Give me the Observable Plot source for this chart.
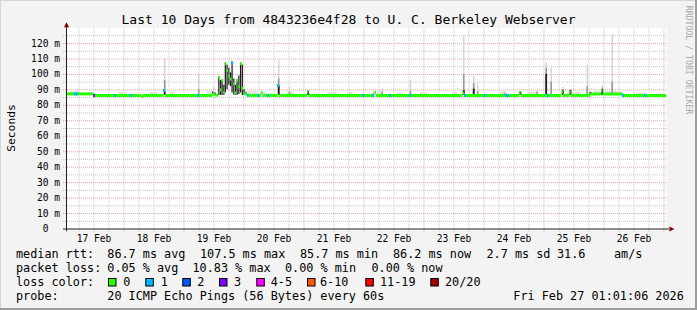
<!DOCTYPE html>
<html>
<head>
<meta charset="utf-8">
<script src="https://cdn.jsdelivr.net/npm/d3@7"></script>
<script src="https://cdn.jsdelivr.net/npm/@observablehq/plot@0.6"></script>
<style>
  html, body { margin: 0; padding: 0; background: #f3f3f3; }
  #wrap { position: relative; width: 697px; height: 310px; background: #f3f3f3; overflow: hidden; }
  #wrap svg { position: absolute; left: 0; top: 0; }
  .edge { position: absolute; }
</style>
</head>
<body>
<div id="wrap">
  <div class="edge" style="left:0;top:0;width:697px;height:1px;background:#d6d6d6"></div>
  <div class="edge" style="left:0;top:0;width:1px;height:310px;background:#d6d6d6"></div>
  <div class="edge" style="right:0;top:0;width:2px;height:310px;background:#9e9e9e"></div>
  <div class="edge" style="left:0;bottom:0;width:697px;height:2px;background:#9e9e9e"></div>
</div>
<script>
// ---------------- data (hours since 17 Feb 00:00) ----------------
const xStart = 1.0183, xEnd = 241.0183;           // 17 Feb 01:01 .. 27 Feb 01:01
const dayLabels = ["17 Feb","18 Feb","19 Feb","20 Feb","21 Feb","22 Feb","23 Feb","24 Feb","25 Feb","26 Feb"];
const dayLabelHours = [12, 36, 60, 84, 108, 132, 156, 180, 204, 228];
const midnightHours = [24, 48, 72, 96, 120, 144, 168, 192, 216, 240];
const sixHourHours = [6,12,18,30,36,42,54,60,66,78,84,90,102,108,114,126,132,138,150,156,162,174,180,186,198,204,210,222,228,234];
const yTickVals = [0,10,20,30,40,50,60,70,80,90,100,110,120];
const yTickLabels = ["0  ","10 m","20 m","30 m","40 m","50 m","60 m","70 m","80 m","90 m","100 m","110 m","120 m"];
const yMajor = [10,20,30,40,50,60,70,80,90,100,110,120];
const yMinor = [5,15,25,35,45,55,65,75,85,95,105,115,125];

// median rtt (ms), step series: value holds from medianT[i] to medianT[i+1]
const medianT = [1.02,12.0,12.6,31.2,31.8,40.0,40.6,59.4,60.4,61.4,61.9,62.6,63.2,63.9,64.5,65.2,65.9,66.6,67.2,67.9,68.6,69.2,69.9,70.6,71.3,72.0,72.8,73.5,79.0,79.6,85.6,86.2,97.4,98.0,124.4,125.0,159.6,160.2,182.3,182.9,199.2,199.8,202.3,202.9,210.6,215.0,215.6,223.6,241.02];
const medianV = [87.4,86.3,86.4,85.7,86.4,89.6,86.4,87.2,86.7,86.4,98.0,90.0,96.0,88.5,107.0,102.5,99.0,97.0,107.5,94.0,88.0,96.0,92.0,107.0,91.0,87.5,87.2,86.4,88.3,86.4,92.8,86.4,88.8,86.4,88.3,86.4,88.0,86.4,88.2,86.4,88.8,86.4,88.5,86.4,87.3,89.3,87.3,86.4,86.2];

// dense smoke during the 19 Feb disturbance (ms)
const wildT  = [59.4,60.4,61.9,62.6,63.2,63.9,64.5,65.2,65.9,66.6,67.2,67.9,68.6,69.2,69.9,70.6,71.3,72.0,72.8];
const wildLo = [86.4,86.4,86.4,86.4,86.4,86.4,88.0,90.0,93.0,92.0,88.0,86.5,86.4,86.4,87.0,88.0,86.4,86.4,86.4];
const wildHi = [88.6,88.0,98.2,96.0,96.2,93.0,107.3,106.0,104.0,101.0,108.0,97.0,93.0,96.5,99.0,107.5,106.0,90.0,88.5];

// isolated smoke spikes (ms)
const spikeBase = 86.4;
const spikeT    = [40.3,53.9,59.8,85.9,90.2,97.7,123.8,127.3,138.6,159.9,163.9,165.5,176.2,182.6,189.3,192.9,194.9,199.5,202.6,209.3,210.6,215.3,219.3];
const spikeTop  = [110,100,91.5,109,91.5,89.5,88.5,90.5,96,125,98.5,94,89,88.5,90.5,107.5,104,91.5,90,106,88.5,92.5,125.5];
const spikeMid  = [96,90,88,97,88.5,89,87.5,88.5,89,100,94,89,87.5,88.5,88.5,104,95,90,89.5,92,88.5,91,95];
const spikeDark = [88.5,0,0,92.5,0,89,0,0,0,89.5,90.5,0,0,88.5,0,100,0,89.5,89.5,0,88.3,90,0];

// faint smoke just above the median line
const fuzzT0  = [2.6,21.8,34.6,42.6,57.4,73.8,78.6,89.4,105.4,113.4,125.4,133.4,142.6,155.4,174.6,185.4,201.4,211.8,227.8];
const fuzzT1  = [6.6,25.4,37.4,44.6,59.4,77.4,81.4,91.8,109.4,115.8,127.8,135.8,145.4,157.4,177.4,189.4,206.6,223.8,233.4];
const fuzzTop = [88.8,88.3,88.3,88.7,89,89.3,88.5,88.5,88.3,88.3,89.5,88,88.3,88.5,88.7,88.5,88.3,88.9,88];

// packets lost (of 20) at given times
const lossT = [4.6,5.4,12.2,20.6,27.0,40.2,53.8,67.4,73.8,77.8,81.8,85.8,119.8,123.8,130.6,138.6,160.6,168.6,177.0,177.8,193.8,223.8,232.6];
const lossN = [1,1,3,1,1,1,1,1,1,1,1,1,1,1,1,1,1,1,1,1,1,1,1];

// legend
const lossLegendLabels = ["0","1","2","3","4-5","6-10","11-19","20/20"];
const lossLegendColors = ["#26ff00","#00b8ff","#0059ff","#7e00ff","#ff00ff","#ff5500","#ff0000","#a10000"];
const titleText = "Last 10 Days from 4843236e4f28 to U. C. Berkeley Webserver";
const rttRow  = ["median rtt:","86.7 ms avg","107.5 ms max","85.7 ms min","86.2 ms now","2.7 ms sd","31.6","am/s"];
const lossRow = ["packet loss:","0.05 % avg","10.83 % max","0.00 % min","0.00 % now"];
const probeRow = ["probe:","20 ICMP Echo Pings (56 Bytes) every 60s","Fri Feb 27 01:01:06 2026"];

// ---------------- derived tables ----------------
function lossColor(n) {
  if (n <= 0) return lossLegendColors[0];
  if (n === 1) return lossLegendColors[1];
  if (n === 2) return lossLegendColors[2];
  if (n === 3) return lossLegendColors[3];
  if (n <= 5) return lossLegendColors[4];
  if (n <= 10) return lossLegendColors[5];
  if (n <= 19) return lossLegendColors[6];
  return lossLegendColors[7];
}
function medAt(t) {
  let v = medianV[0];
  for (let i = 0; i < medianT.length; i++) if (medianT[i] <= t) v = medianV[i];
  return v;
}
const segs = medianT.slice(0, -1).map((t, i) => ({t0: t, t1: medianT[i + 1], v: medianV[i]}));
const wild = wildT.map((t, i) => ({t, lo: wildLo[i], hi: wildHi[i]}));
const spikes = spikeT.map((t, i) => ({t, top: spikeTop[i], mid: spikeMid[i], dark: spikeDark[i]}));
const fuzz = fuzzT0.map((t, i) => ({t0: t, t1: fuzzT1[i], top: fuzzTop[i]}));
const losses = lossT.map((t, i) => ({t, n: lossN[i], v: medAt(t)}));

const FONT = "DejaVu Sans Mono, monospace";
const minorC = "#c4c4c4", majorC = "#e8a4a4";
const arrowUp = {draw(c) { c.moveTo(0, -3); c.lineTo(2.6, 2); c.lineTo(-2.6, 2); c.closePath(); }};
const arrowRight = {draw(c) { c.moveTo(3, 0); c.lineTo(-2, -2.6); c.lineTo(-2, 2.6); c.closePath(); }};

const chart = Plot.plot({
  width: 697, height: 250,
  marginLeft: 66, marginRight: 31, marginTop: 27.5, marginBottom: 21.5,
  style: {background: "transparent", overflow: "visible", fontFamily: FONT, fontSize: "9.6px", color: "black"},
  x: {type: "linear", domain: [xStart, xEnd], axis: null},
  y: {type: "linear", domain: [0, 130], axis: null},
  marks: [
    Plot.frame({fill: "white", stroke: "none"}),
    // grid
    Plot.ruleY(yMinor, {y: d => d, x1: () => xStart - 1.2, x2: () => xEnd, stroke: minorC, strokeDasharray: "1,1"}),
    Plot.ruleX(sixHourHours, {x: d => d, y1: () => -1.8, y2: () => 130, stroke: minorC, strokeDasharray: "1,1"}),
    Plot.ruleY(yMajor, {y: d => d, x1: () => xStart - 1.2, x2: () => xEnd, stroke: majorC, strokeDasharray: "1,1"}),
    Plot.ruleX(midnightHours, {x: d => d, y1: () => -1.8, y2: () => 130, stroke: majorC, strokeDasharray: "1,1"}),
    // smoke
    Plot.rect(fuzz, {x1: "t0", x2: "t1", y1: () => spikeBase, y2: "top", fill: "#e2e2e2"}),
    Plot.ruleX(spikes, {x: "t", y1: () => spikeBase, y2: "top", stroke: "#d6d6d6", strokeWidth: 1.6}),
    Plot.ruleX(spikes, {x: "t", y1: () => spikeBase, y2: "mid", stroke: "#9a9a9a", strokeWidth: 1.6}),
    Plot.ruleX(spikes.filter(d => d.dark > 0), {x: "t", y1: () => spikeBase, y2: "dark", stroke: "#222", strokeWidth: 1.8}),
    Plot.rect(wild, {x1: "t", x2: d => d.t + 0.5, y1: "lo", y2: "hi", fill: "#1e1e1e"}),
    // median line coloured by loss
    Plot.ruleY(segs, {y: "v", x1: "t0", x2: "t1", stroke: lossLegendColors[0], strokeWidth: 3}),
    Plot.ruleY(losses, {y: "v", x1: d => d.t - 0.4, x2: d => d.t + 0.4, stroke: d => lossColor(d.n), strokeWidth: 3}),
    // axes
    Plot.ruleY([0], {y: d => d, x1: () => xStart - 1.2, x2: () => 242.2, stroke: "#222"}),
    Plot.ruleX([xStart], {x: d => d, y1: () => -1.8, y2: () => 131, stroke: "#222"}),
    Plot.dot([0], {x: () => xStart, y: () => 131.8, symbol: arrowUp, fill: "#800000", stroke: "none", r: 3}),
    Plot.dot([0], {x: () => 243.0, y: () => 0, symbol: arrowRight, fill: "#800000", stroke: "none", r: 3}),
    Plot.text(yTickVals, {x: () => xStart, y: d => d, text: (d, i) => yTickLabels[i].replace(/ /g, "\u00a0"),
      textAnchor: "end", dx: -6.5, fill: "black", fontFamily: FONT, fontSize: 9.6}),
    Plot.text(dayLabelHours, {x: d => d, y: () => 0, text: (d, i) => dayLabels[i], dy: 10.2,
      lineAnchor: "middle", fill: "black", fontFamily: FONT, fontSize: 9.6})
  ]
});
const wrap = document.getElementById("wrap");
wrap.appendChild(chart);

// ---------------- title, labels and legend ----------------
const ov = d3.select(wrap).append("svg")
  .attr("width", 697).attr("height", 310)
  .style("font-family", FONT).style("white-space", "pre");
ov.append("text").attr("x", 348.5).attr("y", 24).attr("text-anchor", "middle")
  .attr("font-size", 13).attr("fill", "black").text(titleText);
ov.append("text").attr("transform", "translate(11,128) rotate(-90)").attr("text-anchor", "middle")
  .attr("dominant-baseline", "central").attr("font-size", 11.3).attr("fill", "black").text("Seconds");
ov.append("text").attr("transform", "translate(688.5,60) rotate(90)").attr("text-anchor", "middle")
  .attr("dominant-baseline", "central").attr("font-size", 8.2).attr("fill", "#a8a8a8").text("RRDTOOL / TOBI OETIKER");

const LF = 11.8;
function row(items, xs, y) {
  items.forEach((s, i) => ov.append("text").attr("x", xs[i]).attr("y", y).attr("font-size", LF)
    .attr("fill", "black").text(s));
}
row(rttRow, [16, 107.3, 200, 300, 393, 486.5, 557, 614], 258.3);
row(lossRow, [16, 107.3, 192.5, 285, 371.5], 272.3);
row(["loss color:"], [16], 286);
const boxX = [108.5, 145.8, 182.8, 219.5, 256.8, 307.5, 365.8, 430.8];
const labX = [123.3, 160.7, 197.3, 234, 270.7, 320, 380, 445];
lossLegendLabels.forEach((l, i) => {
  ov.append("rect").attr("x", boxX[i]).attr("y", 278.5).attr("width", 7.5).attr("height", 7.5)
    .attr("fill", lossLegendColors[i]).attr("stroke", "black").attr("stroke-width", 1);
  ov.append("text").attr("x", labX[i]).attr("y", 286).attr("font-size", LF).attr("fill", "black").text(l);
});
row(probeRow, [16, 107.3, 513.3], 299.5);
</script>
</body>
</html>
